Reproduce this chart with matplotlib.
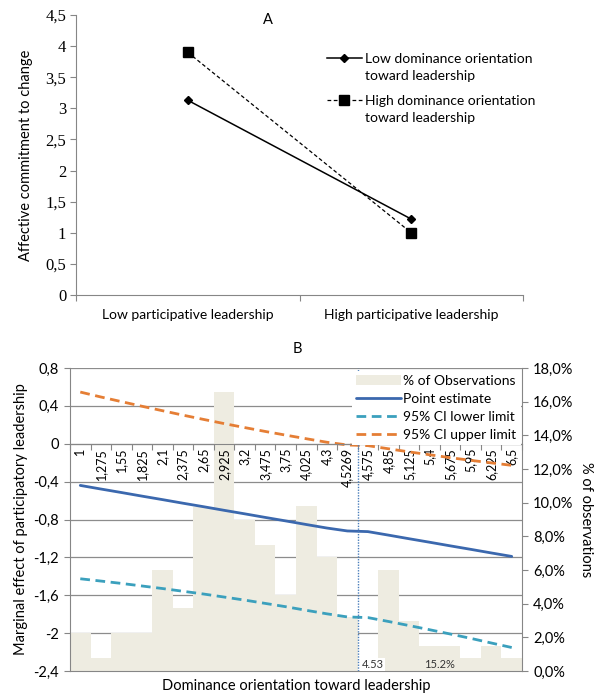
import numpy as np
import matplotlib
matplotlib.use("Agg")
import matplotlib.pyplot as plt
import matplotlib.transforms as mtransforms
from matplotlib.ticker import FuncFormatter
from matplotlib.patches import Patch
from matplotlib.lines import Line2D

plt.rcParams['font.family'] = ['Lato', 'DejaVu Sans']

# panel A data
groups = ["Low participative leadership", "High participative leadership"]
low_dom = [3.13, 1.22]
high_dom = [3.90, 1.00]

# panel B data
dom_levels = ["1", "1,275", "1,55", "1,825", "2,1", "2,375", "2,65", "2,925", "3,2", "3,475", "3,75",
              "4,025", "4,3", "4,5269", "4,575", "4,85", "5,125", "5,4", "5,675", "5,95", "6,225", "6,5"]
obs_pct = [2.25, 0.75, 2.25, 2.25, 6.0, 3.75, 9.75, 16.6, 9.0, 7.5, 4.5,
           9.8, 6.8, 3.2, 0.0, 6.0, 3.0, 1.5, 1.5, 0.75, 1.5, 0.75]
point_est = [-0.440, -0.478, -0.515, -0.553, -0.590, -0.628, -0.665, -0.703, -0.740, -0.778, -0.815,
             -0.853, -0.890, -0.921, -0.928, -0.965, -1.003, -1.040, -1.078, -1.115, -1.153, -1.190]
ci_lower = [-1.426, -1.450, -1.475, -1.502, -1.529, -1.558, -1.587, -1.619, -1.651, -1.686, -1.721,
            -1.759, -1.796, -1.829, -1.836, -1.877, -1.920, -1.964, -2.009, -2.055, -2.104, -2.152]
ci_upper = [0.546, 0.494, 0.445, 0.396, 0.349, 0.302, 0.257, 0.213, 0.171, 0.130, 0.091,
            0.053, 0.016, -0.013, -0.020, -0.053, -0.086, -0.116, -0.147, -0.175, -0.202, -0.228]
cutoff_label = "4,5269"

gray = '#868686'
grid_col = '#8c8c8c'


def comma_fmt(v, pos=None):
    v = round(v, 2) + 0.0
    if v == 0:
        v = 0.0
    return '{:g}'.format(v).replace('.', ',')


def pct_fmt(v, pos=None):
    return '{:.1f}%'.format(v).replace('.', ',')


fig = plt.figure(figsize=(6.0, 6.95), dpi=100)

# ---------------- panel A ----------------
axA = fig.add_axes([76 / 600, 1 - 295 / 695, 447 / 600, 280 / 695])
xa = np.arange(len(groups)) + 0.5
l_low, = axA.plot(xa, low_dom, color='black', lw=1.1, marker='D', ms=4.5)
l_high, = axA.plot(xa, high_dom, color='black', lw=0.9, ls=(0, (3, 2)), marker='s', ms=6.5)
axA.set_xlim(0, len(groups))
axA.set_ylim(0, 4.5)
axA.set_yticks(np.arange(0, 4.51, 0.5))
axA.yaxis.set_major_formatter(FuncFormatter(comma_fmt))
for lab in axA.get_yticklabels():
    lab.set_family('Liberation Serif')
    lab.set_fontsize(12)
axA.set_xticks(np.arange(0, len(groups) + 1))
axA.set_xticklabels([])
axA.set_xticks(xa, groups, minor=True)
axA.tick_params(axis='x', which='major', direction='out', length=4, color=gray)
axA.tick_params(axis='x', which='minor', length=0, labelsize=10, pad=10)
axA.tick_params(axis='y', direction='out', length=4, color=gray, pad=3)
for s in ['top', 'right']:
    axA.spines[s].set_visible(False)
for s in ['left', 'bottom']:
    axA.spines[s].set_color(gray)
axA.set_ylabel("Affective commitment to change", fontsize=10.5, labelpad=9)

# legend: handle sits on the first text line, as in the original
blank = Line2D([], [], color='none')
leg_kw = dict(loc='upper left', frameon=False, fontsize=10, handlelength=2.5,
              handletextpad=0.25, labelspacing=0.38, borderaxespad=0, borderpad=0)
legA1 = axA.legend([l_low, blank], ["Low dominance orientation", "toward leadership"],
                   bbox_to_anchor=(0.5615, 0.864), **leg_kw)
axA.add_artist(legA1)
axA.legend([l_high, blank], ["High dominance orientation", "toward leadership"],
           bbox_to_anchor=(0.5615, 0.714), **leg_kw)
fig.text(268 / 600, 1 - 20 / 695, "A", ha='center', va='center', fontsize=10.5)

# ---------------- panel B ----------------
ax = fig.add_axes([70 / 600, 1 - 671 / 695, 452 / 600, 303 / 695])
ax2 = ax.twinx()
ax.set_zorder(2)
ax2.set_zorder(1)
ax.patch.set_visible(False)
ax2.patch.set_visible(True)
ax2.patch.set_facecolor('white')

xb = np.arange(len(dom_levels))
ax.set_xlim(-0.5, len(dom_levels) - 0.5)
ax.set_ylim(-2.4, 0.8)
ax2.set_ylim(0, 18)
ax.set_yticks(np.arange(-2.4, 0.81, 0.4))
ax.yaxis.set_major_formatter(FuncFormatter(comma_fmt))

# gridlines behind the bars
blend = mtransforms.blended_transform_factory(ax2.transAxes, ax.transData)
ax2.hlines(ax.get_yticks(), 0, 1, transform=blend, color=grid_col, lw=0.9, zorder=0.5)

ax2.bar(xb, obs_pct, width=1.0, color='#EEECE1', zorder=1)
ax2.set_yticks(np.arange(0, 18.1, 2))
ax2.yaxis.set_major_formatter(FuncFormatter(pct_fmt))
ax2.tick_params(axis='y', direction='out', length=4, color=gray, labelsize=10.5, pad=4)
ax2.set_ylabel("% of observations", fontsize=10.5, rotation=-90, labelpad=14)
for s in ['top', 'left']:
    ax2.spines[s].set_visible(False)
for s in ['right', 'bottom']:
    ax2.spines[s].set_color(gray)

line_est, = ax.plot(xb, point_est, color='#3B68AE', lw=2.0, solid_capstyle='round')
line_lo, = ax.plot(xb, ci_lower, color='#3BA0BD', lw=2.0, ls=(0, (3.5, 2)))
line_up, = ax.plot(xb, ci_upper, color='#E57E35', lw=2.0, ls=(0, (3.5, 2)))

cut = dom_levels.index(cutoff_label) + 0.5
ax.axvline(cut, color='#4A7EBB', lw=1.0, ls=(0, (1, 1)), zorder=3)

# category axis crossing at zero
ax.spines['bottom'].set_position(('data', 0))
ax.spines['bottom'].set_color(gray)
ax.spines['left'].set_color(gray)
for s in ['top', 'right']:
    ax.spines[s].set_visible(False)
ax.set_xticks(np.arange(-0.5, len(dom_levels), 1))
ax.set_xticklabels([])
ax.set_xticks(xb, dom_levels, minor=True, rotation=90)
ax.tick_params(axis='x', which='major', direction='out', length=4, color=gray)
ax.tick_params(axis='x', which='minor', length=0, labelsize=9, pad=3)
ax.tick_params(axis='y', direction='out', length=4, color=gray, labelsize=10.5, pad=4)
ax.set_ylabel("Marginal effect of participatory leadership", fontsize=10.5, labelpad=4)
ax.set_xlabel("Dominance orientation toward leadership", fontsize=10.5)
ax.xaxis.set_label_coords(0.5, -0.027)

ax.text(cut + 0.2, -2.33, "4.53", fontsize=8, ha='left', va='center', color='#333333',
        bbox=dict(facecolor='white', edgecolor='none', pad=1), zorder=4)
ax.text(17.5, -2.33, "15.2%", fontsize=8, ha='center', va='center', color='#333333', zorder=4)

handles = [Patch(facecolor='#EEECE1', edgecolor='none'), line_est, line_lo, line_up]
labels = ["% of Observations", "Point estimate", "95% CI lower limit", "95% CI upper limit"]
leg = ax.legend(handles, labels, loc='upper right', bbox_to_anchor=(0.997, 0.99), fontsize=10,
                frameon=True, facecolor='white', edgecolor='none', framealpha=1, fancybox=False,
                handlelength=3.2, handletextpad=0.2, labelspacing=0.42, borderpad=0.3,
                borderaxespad=0)
leg.set_zorder(5)

fig.text(297 / 600, 1 - 349 / 695, "B", ha='center', va='center', fontsize=10.5)

fig.savefig("out.png", dpi=100)
